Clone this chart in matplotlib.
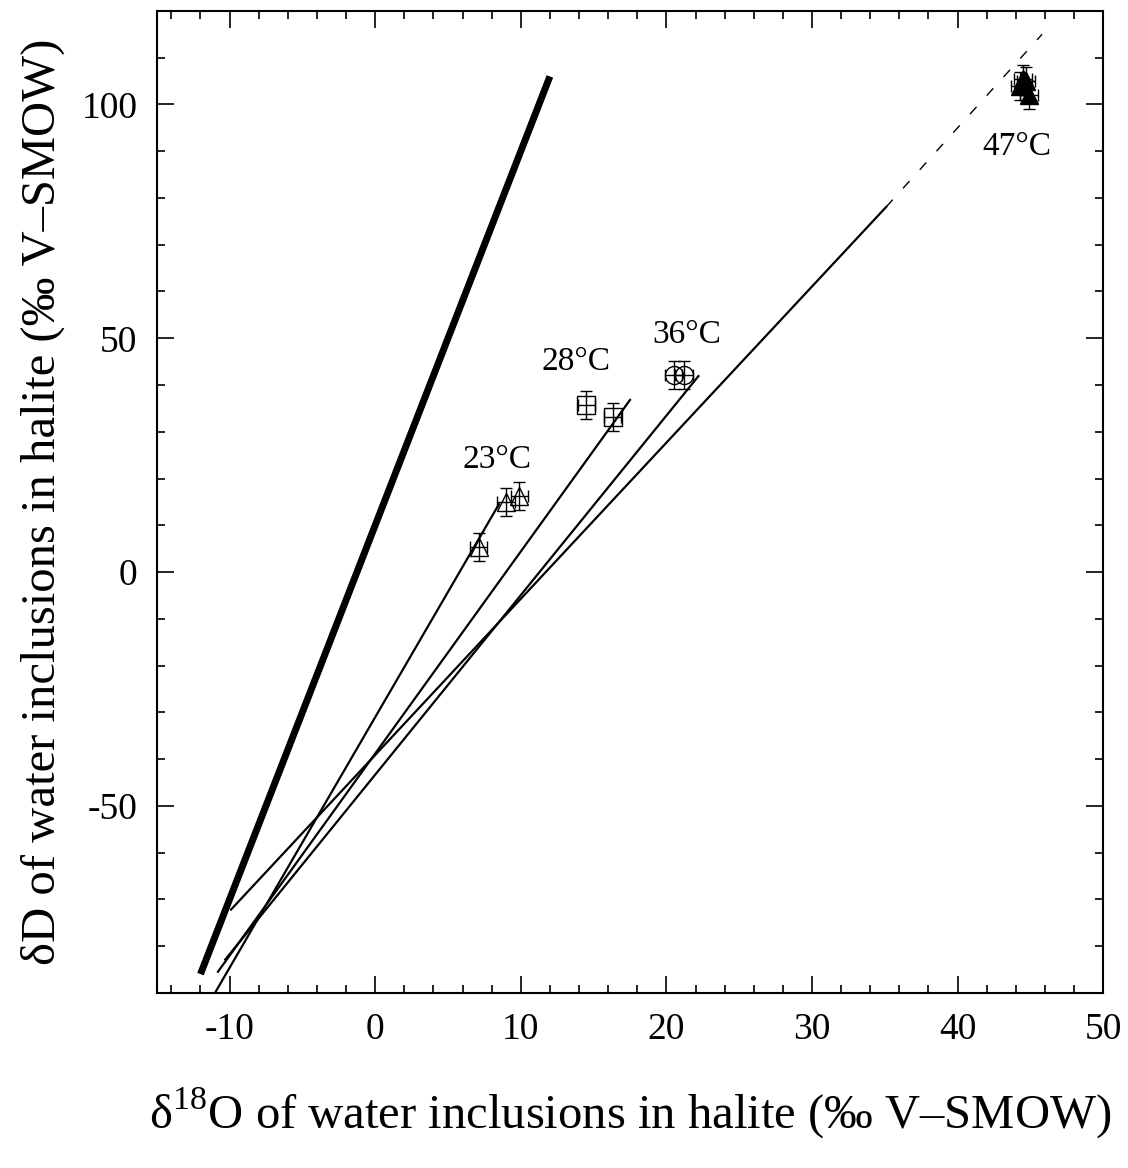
import numpy as np
import matplotlib
matplotlib.use("Agg")
import matplotlib.pyplot as plt
from matplotlib.ticker import MultipleLocator

plt.rcParams['font.family'] = ['Liberation Serif', 'DejaVu Serif']
plt.rcParams['mathtext.fontset'] = 'custom'
plt.rcParams['mathtext.rm'] = 'Liberation Serif'
plt.rcParams['axes.unicode_minus'] = False

# meteoric water line and evaporation lines (end points)
gmwl_x = [-12, 12]
gmwl_y = [-86, 106]
l23_x = [-11.0, 8.5]
l23_y = [-90, 14.5]
l28_x = [-10.8, 17.5]
l28_y = [-85.5, 36.8]
l36_x = [-10.3, 22.2]
l36_y = [-82.9, 41.9]
l47_x = [-9.9, 35.1]
l47_y = [-72.2, 78.1]
l47d_x = [35.1, 45.8]
l47d_y = [78.1, 115.0]

# halite inclusion data
p23_x = [7.1, 9.0, 9.9]
p23_y = [5.3, 15.0, 16.2]
p28_x = [14.5, 16.3]
p28_y = [35.7, 33.1]
p36_x = [20.5, 21.2]
p36_y = [42.1, 42.1]
p47_x = [44.5, 44.3, 44.9, 44.7]
p47_y = [105.5, 104.0, 102.0, 105.0]
yerr = 3.0
xerr = 0.6

labels = ['23°C', '28°C', '36°C', '47°C']
lab_x = [8.4, 13.8, 21.4, 44.1]
lab_y = [24.1, 44.9, 50.7, 91.0]

fig = plt.figure(figsize=(11.28, 11.68), dpi=100)
ax = fig.add_axes([0.139, 0.150, 0.839, 0.8406])

ax.plot(gmwl_x, gmwl_y, color='black', lw=5, solid_capstyle='butt')
for xs, ys in [(l23_x, l23_y), (l28_x, l28_y), (l36_x, l36_y), (l47_x, l47_y)]:
    ax.plot(xs, ys, color='black', lw=1.6)
ax.plot(l47d_x, l47d_y, color='black', lw=1, dashes=(7, 11))

ekw = dict(ecolor='black', elinewidth=1, capsize=4.5, capthick=1, ls='none',
           mec='black', mew=1, ms=13)
ax.errorbar(p23_x, p23_y, yerr=yerr, xerr=xerr, fmt='^', mfc='none', **ekw)
ax.errorbar(p28_x, p28_y, yerr=yerr, xerr=xerr, fmt='s', mfc='none', **ekw)
ax.errorbar(p36_x, p36_y, yerr=yerr, xerr=xerr, fmt='o', mfc='none', **ekw)
ax.errorbar(p47_x, p47_y, yerr=yerr, xerr=xerr, fmt='^', mfc='black', **ekw)

for t, x, y in zip(labels, lab_x, lab_y):
    ax.text(x, y, t, fontsize=24, ha='center', va='center')

ax.set_xlim(-15, 50)
ax.set_ylim(-90, 120)
ax.xaxis.set_major_locator(MultipleLocator(10))
ax.xaxis.set_minor_locator(MultipleLocator(2))
ax.yaxis.set_major_locator(MultipleLocator(50))
ax.yaxis.set_minor_locator(MultipleLocator(10))
ax.tick_params(which='both', direction='in', top=True, right=True, width=1.2)
ax.tick_params(which='major', length=12, labelsize=27, pad=14)
ax.tick_params(which='minor', length=6)
for s in ax.spines.values():
    s.set_linewidth(1.5)

ax.set_xlabel('δ$^{18}$O of water inclusions in halite (‰ V–SMOW)', fontsize=35, labelpad=28)
ax.set_ylabel('δD of water inclusions in halite (‰ V–SMOW)', fontsize=35, labelpad=12)

fig.savefig('out.png', dpi=100)
